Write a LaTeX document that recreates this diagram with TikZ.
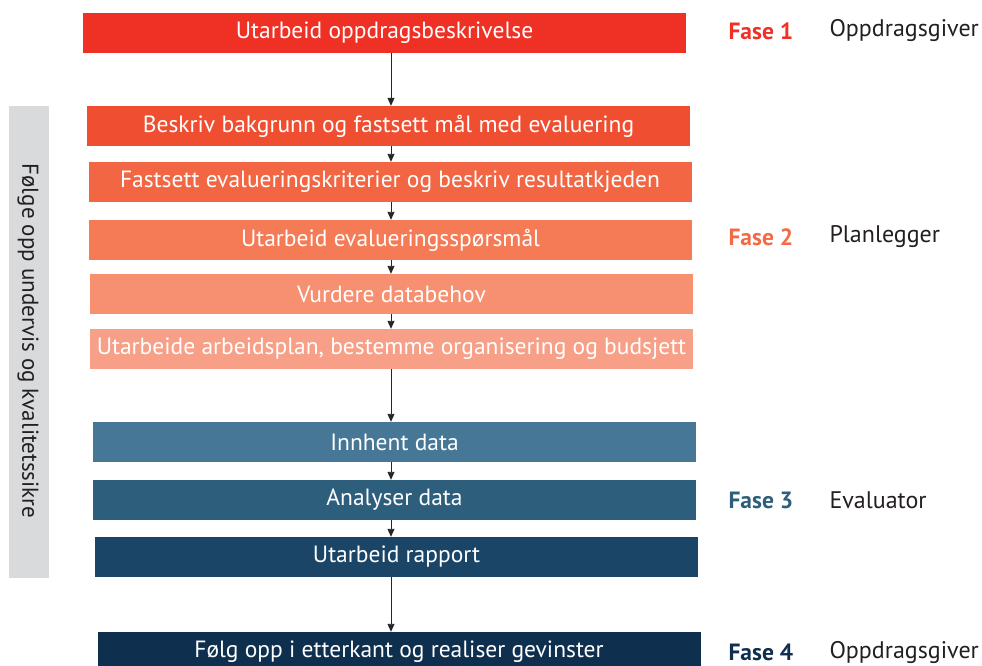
\documentclass[tikz,border=0pt]{standalone}
\usepackage{fontspec}
\setmainfont{PT Sans}
\usetikzlibrary{arrows.meta}
\definecolor{c1}{HTML}{EE3124}
\definecolor{c2}{HTML}{F04E30}
\definecolor{c3}{HTML}{F26644}
\definecolor{c4}{HTML}{F47B55}
\definecolor{c5}{HTML}{F69071}
\definecolor{c6}{HTML}{F7A087}
\definecolor{c7}{HTML}{477796}
\definecolor{c8}{HTML}{2D5F7C}
\definecolor{c9}{HTML}{1B4566}
\definecolor{c10}{HTML}{0F2F4F}
\definecolor{f2}{HTML}{F26A47}
\definecolor{greybar}{HTML}{D9DADC}
\definecolor{txt}{HTML}{231F20}
\begin{document}
\begin{tikzpicture}[x=1pt,y=-1pt,
  stepbox/.style={minimum width=603pt,minimum height=40pt,inner sep=0pt,text=white,font=\fontsize{23.5}{28}\selectfont},
  arr/.style={-{Triangle[length=8pt,width=7pt]},line width=0.9pt,black!85},
  fase/.style={anchor=west,font=\fontsize{23.5}{28}\selectfont\bfseries},
  role/.style={anchor=west,text=txt,font=\fontsize{24}{28}\selectfont}]
\useasboundingbox (0,0) rectangle (982,666);
\node[stepbox,fill=c1]  (b1)  at (384.5,33) {Utarbeid oppdragsbeskrivelse};
\node[stepbox,fill=c2]  (b2)  at (388.5,126) {Beskriv bakgrunn og fastsett mål med evaluering};
\node[stepbox,fill=c3]  (b3)  at (390,182) {Fastsett evalueringskriterier og beskriv resultatkjeden};
\node[stepbox,fill=c4]  (b4)  at (390.5,240) {Utarbeid evalueringsspørsmål};
\node[stepbox,fill=c5]  (b5)  at (391.5,294) {Vurdere databehov};
\node[stepbox,fill=c6]  (b6)  at (391.5,349) {Utarbeide arbeidsplan, bestemme organisering og budsjett};
\node[stepbox,fill=c7]  (b7)  at (394.5,442) {Innhent data};
\node[stepbox,fill=c8]  (b8)  at (394.5,500) {Analyser data};
\node[stepbox,fill=c9]  (b9)  at (396.5,557) {Utarbeid rapport};
\node[stepbox,fill=c10] (b10) at (399,652) {Følg opp i etterkant og realiser gevinster};
\foreach \a/\b in {b1/b2,b2/b3,b3/b4,b4/b5,b5/b6,b6/b7,b7/b8,b8/b9,b9/b10}
  \draw[arr] (\a.south -| 391,0) -- (\b.north -| 391,0);
\node[fill=greybar,minimum width=40pt,minimum height=472pt,inner sep=0pt] (bar) at (29,342) {};
\node[rotate=-90,inner sep=0pt,text=txt,font=\fontsize{23}{26}\selectfont] (bartxt) at (28,341) {Følge opp undervis og kvalitetssikre};
\node[fase,text=c1] (f1) at (725,31) {Fase 1};
\node[role] (r1) at (826,31) {Oppdragsgiver};
\node[fase,text=f2] (f2n) at (725,237) {Fase 2};
\node[role] (r2) at (826,237) {Planlegger};
\node[fase,text=c8] (f3) at (725,500) {Fase 3};
\node[role] (r3) at (826,500) {Evaluator};
\node[fase,text=c10] (f4) at (725,652) {Fase 4};
\node[role] (r4) at (826,652) {Oppdragsgiver};
\end{tikzpicture}
\end{document}
